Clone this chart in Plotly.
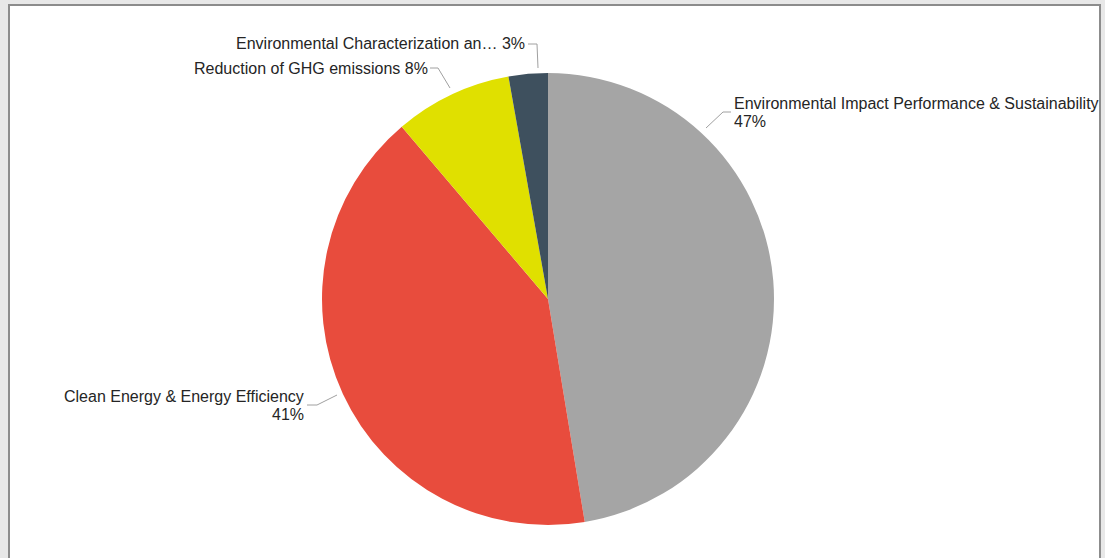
import plotly.graph_objects as go

categories = [
    "Environmental Impact Performance & Sustainability",
    "Clean Energy & Energy Efficiency",
    "Reduction of GHG emissions",
    "Environmental Characterization an\u2026",
]
values = [47.4, 41.4, 8.4, 2.8]
colors = ["#A5A5A5", "#E84C3D", "#E0E000", "#3E505E"]

W, H = 1105, 558
def px(x):
    return x / W
def py(y):
    return 1 - y / H

total = sum(values)
pcts = [round(v / total * 100) for v in values]

# pie geometry (pixels)
cx, cy, r = 548, 299, 226

fig = go.Figure(go.Pie(
    labels=categories,
    values=values,
    marker=dict(colors=colors, line=dict(width=0)),
    sort=False,
    direction="clockwise",
    rotation=0,
    textinfo="none",
    hoverinfo="label+percent",
    showlegend=False,
    domain=dict(x=[px(cx - r), px(cx + r)], y=[py(cy + r), py(cy - r)]),
))

font = dict(family="Liberation Sans, Arial, sans-serif", size=16, color="#252525")

# label layout: (text lines, anchor x, first line y, xanchor, leader path points)
label_specs = [
    ([categories[0], f"{pcts[0]}%"], 733, 103, "left",
     [(706, 128), (723, 112), (731, 112)]),
    ([categories[1], f"{pcts[1]}%"], 305, 396, "right",
     [(337, 395), (317, 405), (307, 405)]),
    ([f"{categories[2]} {pcts[2]}%"], 429, 68, "right",
     [(450, 88), (438, 68), (430, 68)]),
    ([f"{categories[3]} {pcts[3]}%"], 526, 44, "right",
     [(538, 68), (537, 44), (528, 44)]),
]
line_gap = 18

shapes = [
    dict(type="rect", xref="paper", yref="paper",
         x0=px(9), x1=px(1100), y0=-0.1, y1=py(5),
         line=dict(color="#8C8C8C", width=2), fillcolor="white", layer="below"),
]
annotations = []
for lines, ax, ay, xanchor, pts in label_specs:
    path = "M " + " L ".join(f"{px(x)},{py(y)}" for x, y in pts)
    shapes.append(dict(type="path", xref="paper", yref="paper", path=path,
                       line=dict(color="#A0A0A0", width=1), layer="above"))
    for i, text in enumerate(lines):
        annotations.append(dict(text=text, x=px(ax), y=py(ay + i * line_gap),
                                xref="paper", yref="paper",
                                xanchor=xanchor, yanchor="middle", align=xanchor,
                                showarrow=False, font=font, borderpad=0))

fig.update_layout(
    width=W, height=H,
    margin=dict(l=0, r=0, t=0, b=0),
    paper_bgcolor="#E8E8E8",
    plot_bgcolor="white",
    shapes=shapes,
    annotations=annotations,
)

fig.write_html("out.html")
